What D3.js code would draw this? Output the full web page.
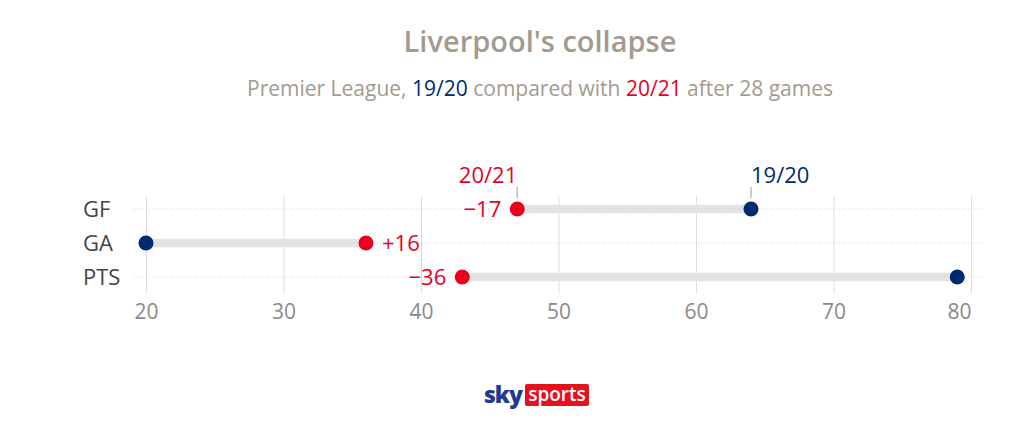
<!DOCTYPE html>
<html>
<head>
<meta charset="utf-8">
<script src="https://cdn.jsdelivr.net/npm/d3@7"></script>
<style>
body { margin: 0; background: #fff; }
svg { display: block; font-family: "Open Sans", sans-serif; }
</style>
</head>
<body>
<svg class="chart" width="1023" height="428"></svg>
<script>
var stats = ["GF", "GA", "PTS"];
var season1920 = [64, 20, 79];
var season2021 = [47, 36, 43];
var xTicks = [20, 30, 40, 50, 60, 70, 80];

var navy = "#002a6e", red = "#e8001c", grey = "#a39a8f";

var svg = d3.select(".chart");

var x = d3.scaleLinear().domain([20, 80]).range([146, 971]);
var y = d3.scalePoint().domain(stats).range([209, 277]);

var data = stats.map(function(s, i) {
    return {stat: s, a: season1920[i], b: season2021[i], diff: season2021[i] - season1920[i]};
});

// title
svg.append("text")
.attr("x", 540).attr("y", 52)
.attr("text-anchor", "middle")
.attr("font-size", 29).attr("font-weight", 600)
.attr("fill", grey)
.text("Liverpool's collapse");

var sub = svg.append("text")
.attr("x", 540).attr("y", 96)
.attr("text-anchor", "middle")
.attr("font-size", 21)
.attr("fill", grey);
sub.append("tspan").text("Premier League, ");
sub.append("tspan").attr("fill", navy).text("19/20");
sub.append("tspan").text(" compared with ");
sub.append("tspan").attr("fill", red).text("20/21");
sub.append("tspan").text(" after 28 games");

// axis + vertical grid
var axis = svg.append("g")
.attr("transform", "translate(0,293)")
.call(d3.axisBottom(x).tickValues(xTicks).tickSize(-97).tickPadding(11));
axis.select(".domain").remove();
axis.selectAll("line").attr("stroke", "#dddddd");
axis.selectAll("text").attr("font-size", 21).attr("fill", "#8a8a8a")
.attr("font-family", "Open Sans, sans-serif")
.attr("text-anchor", function(d, i) { return i == xTicks.length - 1 ? "end" : "middle"; });

// row labels
svg.selectAll(".row-label")
.data(data)
.enter().append("text")
.attr("class", "row-label")
.attr("x", 83)
.attr("y", function(d) { return y(d.stat); })
.attr("dy", "0.36em")
.attr("font-size", 22)
.attr("fill", "#444")
.text(function(d) { return d.stat; });

// bars between seasons
svg.selectAll(".bar")
.data(data)
.enter().append("line")
.attr("class", "bar")
.attr("x1", function(d) { return x(d.a); })
.attr("x2", function(d) { return x(d.b); })
.attr("y1", function(d) { return y(d.stat); })
.attr("y2", function(d) { return y(d.stat); })
.attr("stroke", "#e4e4e4")
.attr("stroke-width", 8.5);

// dotted row lines
svg.selectAll(".row-line")
.data(data)
.enter().append("line")
.attr("class", "row-line")
.attr("x1", 134).attr("x2", 983)
.attr("y1", function(d) { return y(d.stat); })
.attr("y2", function(d) { return y(d.stat); })
.attr("stroke", "#d2d2d2")
.attr("stroke-dasharray", "1,2");

// dots
svg.selectAll(".dot-a")
.data(data)
.enter().append("circle")
.attr("class", "dot-a")
.attr("cx", function(d) { return x(d.a); })
.attr("cy", function(d) { return y(d.stat); })
.attr("r", 7.5)
.attr("fill", navy);

svg.selectAll(".dot-b")
.data(data)
.enter().append("circle")
.attr("class", "dot-b")
.attr("cx", function(d) { return x(d.b); })
.attr("cy", function(d) { return y(d.stat); })
.attr("r", 7.5)
.attr("fill", red);

// differences
svg.selectAll(".diff")
.data(data)
.enter().append("text")
.attr("class", "diff")
.attr("x", function(d) { return d.diff < 0 ? x(d.b) - 16 : x(d.b) + 16; })
.attr("y", function(d) { return y(d.stat); })
.attr("dy", "0.36em")
.attr("text-anchor", function(d) { return d.diff < 0 ? "end" : "start"; })
.attr("font-size", 22)
.attr("fill", red)
.text(function(d) { return (d.diff < 0 ? "\u2212" : "+") + Math.abs(d.diff); });

// season annotations on first row
var first = data[0];
var ann = [
    {v: first.b, label: "20/21", color: red, anchor: "end"},
    {v: first.a, label: "19/20", color: navy, anchor: "start"}
];
svg.selectAll(".ann-tick")
.data(ann)
.enter().append("line")
.attr("x1", function(d) { return x(d.v); })
.attr("x2", function(d) { return x(d.v); })
.attr("y1", 187).attr("y2", 198)
.attr("stroke", "#bbbbbb")
.attr("stroke-width", 1.5);
svg.selectAll(".ann-label")
.data(ann)
.enter().append("text")
.attr("x", function(d) { return x(d.v); })
.attr("y", 183)
.attr("text-anchor", function(d) { return d.anchor; })
.attr("font-size", 22)
.attr("fill", function(d) { return d.color; })
.text(function(d) { return d.label; });

// logo
var logo = svg.append("g");
logo.append("text")
.attr("x", 522).attr("y", 403)
.attr("text-anchor", "end")
.attr("font-size", 23).attr("font-weight", 800)
.attr("letter-spacing", -1)
.attr("fill", "#1f3a93")
.text("sky");
logo.append("rect")
.attr("x", 525).attr("y", 384)
.attr("width", 64).attr("height", 22)
.attr("rx", 2)
.attr("fill", "#e8101c");
logo.append("text")
.attr("x", 557).attr("y", 401)
.attr("text-anchor", "middle")
.attr("font-size", 19).attr("font-weight", 600)
.attr("fill", "#fff")
.text("sports");
</script>
</body>
</html>
